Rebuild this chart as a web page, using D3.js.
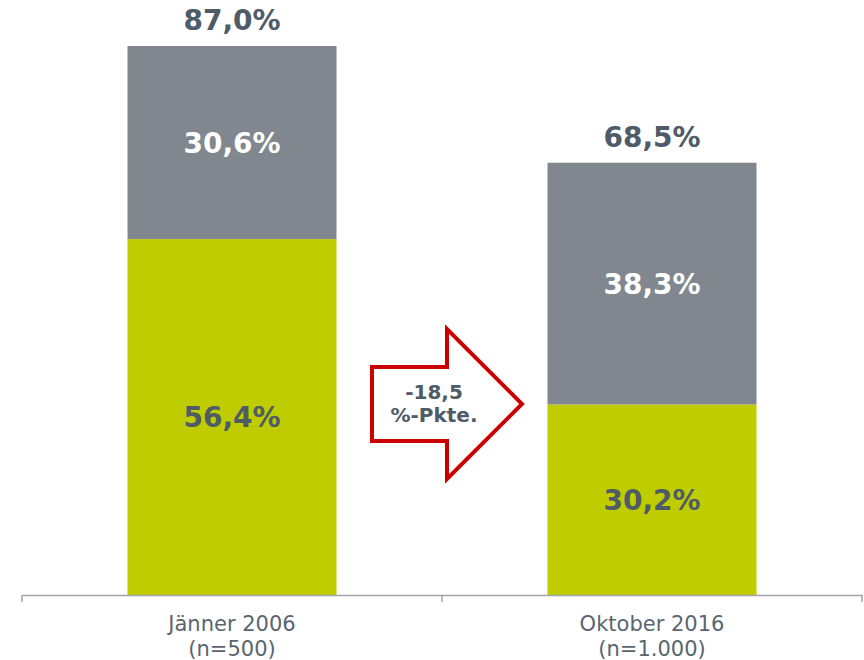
<!DOCTYPE html>
<html>
<head>
<meta charset="utf-8">
<script src="https://cdn.jsdelivr.net/npm/d3@7"></script>
<style>
  body { margin: 0; background: #fff; }
  svg text { font-family: Verdana, "DejaVu Sans", sans-serif; }
</style>
</head>
<body>
<svg id="chart" width="864" height="660"></svg>
<script>
// data
var categories = ['Jänner 2006\n(n=500)', 'Oktober 2016\n(n=1.000)'];
var lowerValues = [56.4, 30.2];
var upperValues = [30.6, 38.3];
var totalLabels = ['87,0%', '68,5%'];
var lowerLabels = ['56,4%', '30,2%'];
var upperLabels = ['30,6%', '38,3%'];
var changeLabel = ['-18,5', '%-Pkte.'];

var svg = d3.select('#chart');
var left = 22, right = 862, base = 595;

var x = d3.scaleBand().domain(categories).range([left, right]).paddingInner(0).paddingOuter(0);
var barW = 209;
var y = d3.scaleLinear().domain([0, 87]).range([base, 46]);

var green = '#bfcc00', grey = '#80878f', dark = '#4f5b66';

var cols = categories.map(function(c, i) {
	return {cat: c, lo: lowerValues[i], hi: upperValues[i], tot: lowerValues[i] + upperValues[i], i: i};
});

function bx(d) { return x(d.cat) + (x.bandwidth() - barW) / 2; }

// bars
svg.selectAll('rect.lo').data(cols).enter().append('rect')
	.attr('x', bx).attr('width', barW)
	.attr('y', function(d) { return y(d.lo); })
	.attr('height', function(d) { return base - y(d.lo); })
	.attr('fill', green);

svg.selectAll('rect.hi').data(cols).enter().append('rect')
	.attr('x', bx).attr('width', barW)
	.attr('y', function(d) { return y(d.tot); })
	.attr('height', function(d) { return y(d.lo) - y(d.tot); })
	.attr('fill', grey);

// labels inside
svg.selectAll('text.lo').data(cols).enter().append('text')
	.attr('x', function(d) { return bx(d) + barW / 2; })
	.attr('y', function(d) { return (y(d.lo) + base) / 2 + 10; })
	.attr('text-anchor', 'middle').attr('font-size', 28).attr('font-weight', 'bold')
	.attr('fill', dark)
	.text(function(d) { return lowerLabels[d.i]; });

svg.selectAll('text.hi').data(cols).enter().append('text')
	.attr('x', function(d) { return bx(d) + barW / 2; })
	.attr('y', function(d) { return (y(d.lo) + y(d.tot)) / 2 + 10; })
	.attr('text-anchor', 'middle').attr('font-size', 28).attr('font-weight', 'bold')
	.attr('fill', '#fff')
	.text(function(d) { return upperLabels[d.i]; });

svg.selectAll('text.tot').data(cols).enter().append('text')
	.attr('x', function(d) { return bx(d) + barW / 2; })
	.attr('y', function(d) { return y(d.tot) - 16; })
	.attr('text-anchor', 'middle').attr('font-size', 28).attr('font-weight', 'bold')
	.attr('fill', dark)
	.text(function(d) { return totalLabels[d.i]; });

// axis
var axis = d3.axisBottom(x).tickSize(0).tickFormat('');
var ag = svg.append('g').attr('transform', 'translate(0,' + base + ')').call(axis);
ag.select('.domain').attr('stroke', '#a0a5aa').attr('stroke-width', 1.5);
var ticks = [left, x(categories[1]), right];
ag.selectAll('line.sep').data(ticks).enter().append('line')
	.attr('x1', function(d) { return d; }).attr('x2', function(d) { return d; })
	.attr('y1', 0).attr('y2', 7)
	.attr('stroke', '#a0a5aa').attr('stroke-width', 1.5);

var lab = svg.selectAll('text.cat').data(categories).enter().append('text')
	.attr('text-anchor', 'middle').attr('font-size', 21).attr('fill', '#5a6570')
	.attr('x', function(d) { return x(d) + x.bandwidth() / 2; })
	.attr('y', base + 36);
lab.selectAll('tspan').data(function(d) { return d.split('\n'); }).enter().append('tspan')
	.attr('x', function() { return d3.select(this.parentNode).attr('x'); })
	.attr('dy', function(d, i) { return i ? 25 : 0; })
	.text(function(d) { return d; });

// arrow
var ax0 = 372, ax1 = 447, ax2 = 522;
var ay = 404;
var arrow = [[ax0, ay - 37], [ax1, ay - 37], [ax1, ay - 75], [ax2, ay], [ax1, ay + 75], [ax1, ay + 37], [ax0, ay + 37]];
svg.append('path')
	.attr('d', d3.line()(arrow) + 'Z')
	.attr('fill', '#fff').attr('stroke', '#cc0000').attr('stroke-width', 4)
	.attr('stroke-linejoin', 'miter');

svg.append('text')
	.attr('text-anchor', 'middle').attr('font-size', 20).attr('font-weight', 'bold').attr('fill', dark)
	.attr('x', 434).attr('y', 399)
	.selectAll('tspan').data(changeLabel).enter().append('tspan')
	.attr('x', 434).attr('dy', function(d, i) { return i ? 23 : 0; })
	.text(function(d) { return d; });
</script>
</body>
</html>
